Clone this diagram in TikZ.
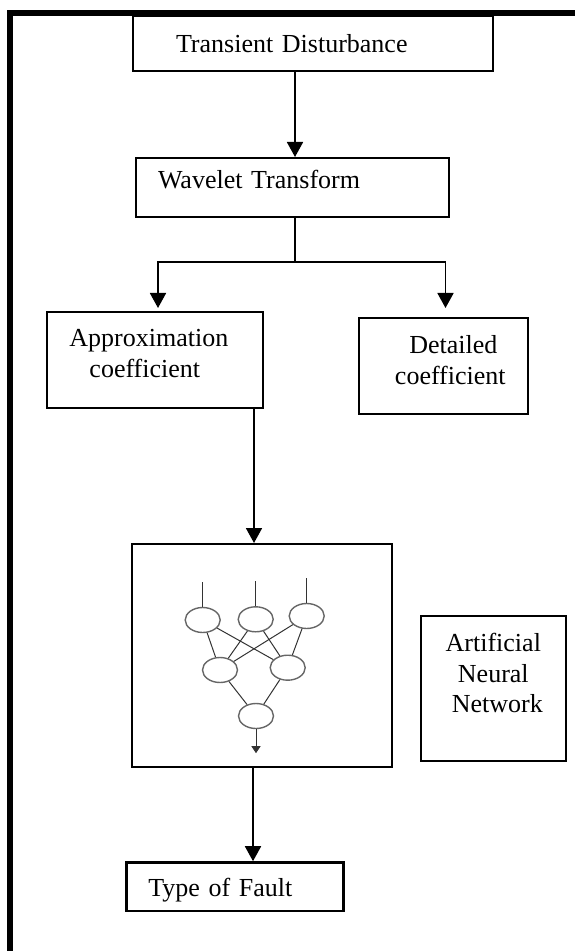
\documentclass[tikz,border=0pt]{standalone}
\usepackage{fontspec}
\setmainfont{Liberation Serif}
\usetikzlibrary{arrows.meta,shapes.geometric}

\tikzset{
  blk/.style={draw, rectangle, line width=1pt, inner sep=0pt, font=\fontsize{13}{15.5}\selectfont},
  arr/.style={line width=0.9pt, -{Triangle[width=8pt,length=7.5pt]}},
  neuron/.style={draw=black!60, ellipse, line width=0.7pt, minimum width=17.5pt, minimum height=12.5pt, inner sep=0pt},
  syn/.style={draw=black!80, line width=0.5pt}
}

\begin{document}
\begin{tikzpicture}[x=0.5pt,y=-0.5pt]
\useasboundingbox (0,0) rectangle (575,951);

% page frame
\draw[line width=3pt] (10,951) -- (10,13) -- (575,13);

\node[blk, minimum width=180pt, minimum height=27.5pt, text width=137pt, inner xsep=21.5pt, align=left] (td) at (313,43.5) {Transient Disturbance};
\node[blk, minimum width=156.5pt, minimum height=29.5pt, text width=134.5pt, inner xsep=11pt, align=left, text depth=8.4pt] (wt) at (292.5,187.5) {Wavelet Transform};
\node[blk, minimum width=108.2pt, minimum height=48pt, align=center, text depth=6.4pt] (ac) at (154.8,360) {Approximation\hspace*{6pt}\\coefficient\hspace*{10pt}};
\node[blk, minimum width=84.7pt, minimum height=48pt, align=center, text depth=6.4pt] (dc) at (443.3,366) {\hspace*{10pt}Detailed\\\hspace*{7pt}coefficient};
\node[blk, minimum width=130pt, minimum height=111.5pt] (nn) at (262,655.5) {};
\node[blk, minimum width=72.4pt, minimum height=72.4pt, align=center, text depth=15pt, font=\fontsize{13}{15.25}\selectfont] (ann) at (493.3,688.3) {Artificial\\Neural\\\hspace*{4pt}Network};
\node[blk, line width=1.4pt, minimum width=108.3pt, minimum height=24.2pt, text width=86.7pt, inner xsep=10.8pt, align=left, text height=12.7pt] (tf) at (235,886.8) {Type of Fault};

% flow
\coordinate (split) at (295,262);
\draw[arr] ([xshift=-9pt]td.south) -- ([xshift=-9pt]td.south |- wt.north);
\draw[line width=0.9pt] (wt.south -| split) -- (split);
\draw[arr, shorten >=1.5pt] (split) -| ([xshift=1.6pt]ac.north);
\draw[arr, shorten >=4.5pt] (split) -| ([xshift=1.1pt]dc.north);
\draw[arr] ([xshift=-5pt]ac.south east) -- ([xshift=-5pt]ac.south east |- nn.north);
\draw[arr] ([xshift=-4.5pt]nn.south) -- ([xshift=-4.5pt]nn.south |- tf.north);

% small network inside the box
\node[neuron] (n1) at (202.7,620) {};
\node[neuron] (n2) at (255.7,619.3) {};
\node[neuron] (n3) at (306.7,616) {};
\node[neuron] (n4) at (220,670) {};
\node[neuron] (n5) at (287.7,667.7) {};
\node[neuron] (n6) at (256,716) {};

\foreach \n in {n1,n2,n3}
  \draw[syn] (\n.north) -- ++(0,-25);
\foreach \a in {n1,n2,n3}
  \foreach \b in {n4,n5}
    \draw[syn] (\a) -- (\b);
\draw[syn] (n4) -- (n6);
\draw[syn] (n5) -- (n6);
\draw[syn, -{Triangle[width=4.5pt,length=3.5pt]}] (n6.south) -- ++(0,24);

\end{tikzpicture}
\end{document}
